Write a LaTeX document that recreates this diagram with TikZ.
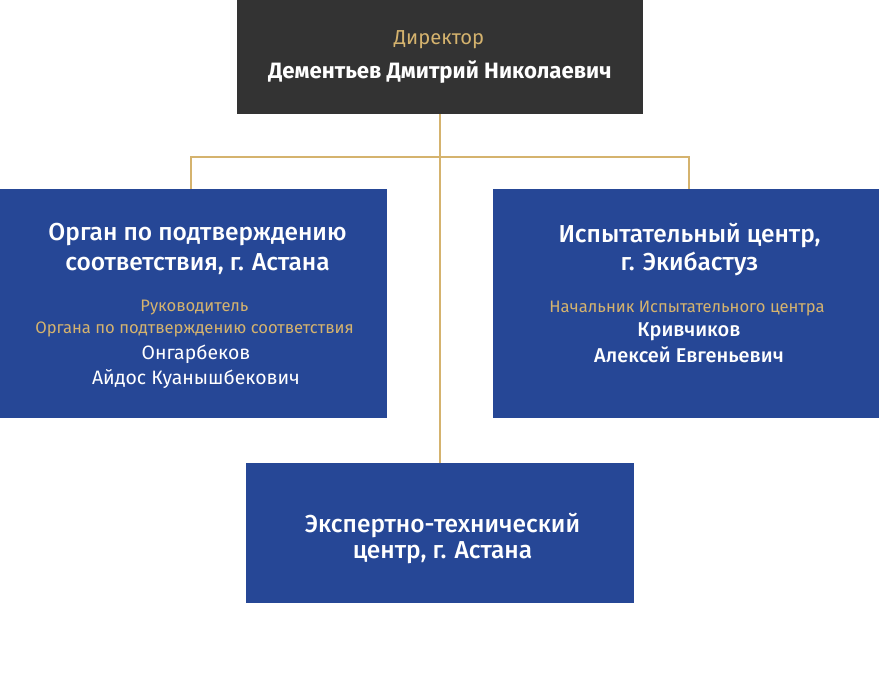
\documentclass[tikz,border=0pt]{standalone}
\usepackage{fontspec}
\setmainfont{Fira Sans}[FontFace={sb}{n}{Font=* Medium}]
\usetikzlibrary{positioning}
\definecolor{boxblue}{HTML}{264796}
\definecolor{boxdark}{HTML}{333333}
\definecolor{linegold}{HTML}{D5B36E}
\newcommand{\semib}{\fontseries{sb}\selectfont}

\begin{document}
\begin{tikzpicture}[x=1pt,y=-1pt,
  unit/.style={rectangle, fill=boxblue, inner sep=0pt, anchor=north west},
  post/.style={font=\fontsize{16.6}{18}\selectfont, color=linegold},
  title/.style={font=\fontsize{24.5}{28}\semib, color=white},
  person/.style={font=\fontsize{20}{22}\semib, color=white},
  link/.style={draw=linegold, line width=1.6pt}]

\useasboundingbox (0,0) rectangle (880,694);

\node[unit, fill=boxdark, minimum width=406pt, minimum height=114pt] (dir) at (237,0) {};
\node[unit, minimum width=387pt, minimum height=229pt] (organ) at (0,189) {};
\node[unit, minimum width=386pt, minimum height=229pt] (test) at (493,189) {};
\node[unit, minimum width=388pt, minimum height=140pt] (expert) at (246,463) {};

\coordinate (bus) at (440,157);
\draw[link] (dir.south) -- (expert.north);
\draw[link] ([xshift=-2.5pt]organ.north) |- (bus) -| ([xshift=2.5pt]test.north);

\node[post, font=\fontsize{20.2}{22}\selectfont] (dirpost) at (439,40) {Директор};
\node[font=\fontsize{22.2}{24}\bfseries, color=white] (dirname) at (440,72) {Дементьев Дмитрий Николаевич};

\node[title] (organ1) at (197.5,235) {Орган по подтверждению};
\node[title] (organ2) at (197.5,264) {соответствия, г. Астана};
\node[post] (organpost1) at (194.5,308) {Руководитель};
\node[post] (organpost2) at (194.5,329) {Органа по подтверждению соответствия};
\node[person, font=\fontsize{19.4}{22}\selectfont] (organname1) at (196,354) {Онгарбеков};
\node[person, font=\fontsize{19.4}{22}\selectfont] (organname2) at (196,379) {Айдос Куанышбекович};

\node[title] (test1) at (689.5,235) {Испытательный центр,};
\node[title] (test2) at (689.5,264) {г. Экибастуз};
\node[post] (testpost) at (687,309) {Начальник Испытательного центра};
\node[person] (testname1) at (689,332) {Кривчиков};
\node[person] (testname2) at (689,355) {Алексей Евгеньевич};

\node[title] (expert1) at (442.5,525) {Экспертно-технический};
\node[title] (expert2) at (442.5,553) {центр, г. Астана};

\end{tikzpicture}
\end{document}
